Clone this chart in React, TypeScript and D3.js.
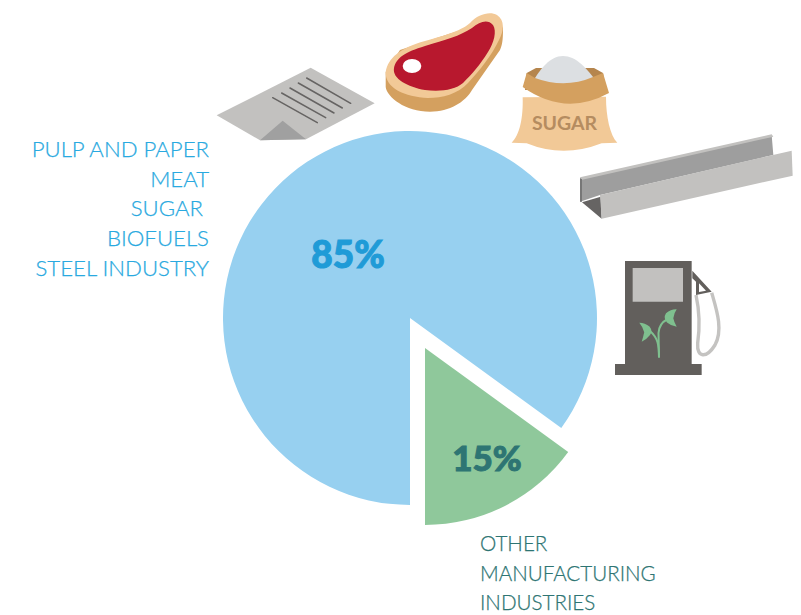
import React from "react";
import * as d3 from "d3";

const shares = [15, 85];
const sliceColors = ["#8fc89b", "#97d0f0"];
const leftLabels = ["PULP AND PAPER", "MEAT", "SUGAR ", "BIOFUELS", "STEEL INDUSTRY"];
const rightLabels = ["OTHER", "MANUFACTURING", "INDUSTRIES"];
const valueLabels = ["15%", "85%"];

const toPath = (pts: [number, number][]) => "M" + pts.map((p) => p.join(",")).join("L") + "Z";
const smooth = d3.line().curve(d3.curveCatmullRomClosed.alpha(0.5));
const z1 = (x: number, y: number): [number, number] => [200 + x / 3, y / 3];
const z2 = (x: number, y: number): [number, number] => [500 + x / 3, 60 + y / 3];
const z3 = (x: number, y: number): [number, number] => [600 + x / 3, 250 + y / 3];

const paperLines = [
  [320, 234, 452, 310],
  [295, 249, 427, 324],
  [270, 264, 402, 339],
  [245, 279, 377, 353],
  [218, 293, 352, 368],
];

export default function App() {
  const pie = d3.pie<number>().sort(null).startAngle((126 * Math.PI) / 180).endAngle((486 * Math.PI) / 180);
  const arcs = pie(shares);
  const green = d3.arc<any>().innerRadius(0).outerRadius(177)(arcs[0]) as string;
  const blue = d3.arc<any>().innerRadius(0).outerRadius(187)(arcs[1]) as string;

  const labelFont = "Lato, sans-serif";
  return (
    <svg width={801} height={615} style={{ position: "absolute", left: 0, top: 0, background: "#fff" }}>
      {/* pie */}
      <path d={blue} fill={sliceColors[1]} transform="translate(410,318)" />
      <path d={green} fill={sliceColors[0]} transform="translate(425,348)" />

      {/* paper */}
      <path d={toPath([z1(50, 346), z1(332, 203), z1(524, 310), z1(318, 418), z1(180, 421)])} fill="#c2c1bf" />
      <path d={toPath([z1(180, 421), z1(248, 362), z1(318, 418)])} fill="#a0a0a0" />
      {paperLines.map((l, i) => {
        const a = z1(l[0], l[1]);
        const b = z1(l[2], l[3]);
        return <line key={i} x1={a[0]} y1={a[1]} x2={b[0]} y2={b[1]} stroke="#666463" strokeWidth={1.5} strokeLinecap="round" />;
      })}

      {/* meat */}
      <path
        d="M385.7,72 L385.7,87 C387,97 405,111.7 430,111.7 C450,111.7 465,102 472,90 L500,50 C503,44 503,35 503,28 L498,18 L400,50 Z"
        fill="#d4a05f"
      />
      <path
        d="M385.7,72 C388,58 400,48 425,41 C450,34 462,30 470,23 C478,14 490,11 497,15 C505,20 504,31 499,40 C492,55 480,70 468,83 C458,94 442,98 428,98 C405,97 385,88 385.7,72 Z"
        fill="#f2c997"
      />
      <path
        d="M394,68 C396,58 405,52 425,46 C445,40 460,36 472,28 C480,21 488,19 493,25 C497,31 494,43 488,52 C480,65 472,74 463,83 C455,90 440,92 425,90 C408,87 392,79 394,68 Z"
        fill="#b8182e"
      />
      <ellipse cx={412} cy={66} rx={9.3} ry={7} fill="#fff" />

      {/* sugar */}
      <path d="M526.7,73 L536,68 L594,68 L603,73 L606,90 L525,90 Z" fill="#b5854d" />
      <path
        d={`M${z2(35, 248)}C${z2(60, 225)} ${z2(70, 170)} ${z2(68, 112)}L${z2(318, 110)}C${z2(318, 170)} ${z2(330, 225)} ${z2(352, 248)}L${z2(305, 250)}Q${z2(190, 295)} ${z2(80, 250)}Z`}
        fill="#f2c997"
      />
      <path d="M535,78 C540,70 550,56 563,56 C576,56 586,68 593,77 L594,86 L534,86 Z" fill="#dcdfe2" />
      <path d="M522.7,87 L526.7,73 L535,78 Q565,89 593,77 L603,73 L609,93 Q565,117 522.7,87 Z" fill="#d4a05f" />
      <text x={564.5} y={129.5} textAnchor="middle" fontFamily="Lato, sans-serif" fontWeight={700} fontSize={19.5} fill="#b58c60">SUGAR</text>

      {/* steel */}
      <path d={toPath([z2(240, 355), z2(815, 225), z2(820, 285), z2(300, 405), z2(240, 425)])} fill="#9e9e9e" />
      <path d={toPath([z2(240, 352), z2(815, 223), z2(820, 230), z2(243, 360)])} fill="#c2c1bf" />
      <path d={toPath([z2(240, 355), z2(246, 358), z2(246, 425), z2(240, 425)])} fill="#777" />
      <path d={toPath([z2(246, 427), z2(302, 410), z2(305, 476)])} fill="#666463" />
      <path d={toPath([z2(300, 405), z2(875, 272), z2(878, 347), z2(305, 476)])} fill="#c2c1bf" />

      {/* pump */}
      <path
        d={`M${z3(288, 135)}C${z3(300, 190)} ${z3(300, 230)} ${z3(293, 280)}C${z3(290, 325)} ${z3(320, 325)} ${z3(345, 285)}C${z3(370, 240)} ${z3(350, 180)} ${z3(335, 128)}`}
        fill="none"
        stroke="#c4c3c1"
        strokeWidth={3.4}
      />
      <path d={toPath([z3(277, 62), z3(335, 125), z3(288, 135), z3(288, 95), z3(277, 85)])} fill="#625f5c" />
      <path d={toPath([z3(297, 100), z3(318, 122), z3(297, 126)])} fill="#fff" />
      <path d={toPath([z3(75, 33), z3(275, 33), z3(275, 342), z3(305, 342), z3(305, 375), z3(45, 375), z3(45, 342), z3(75, 342)])} fill="#625f5c" />
      <path d={toPath([z3(98, 54), z3(249, 54), z3(249, 155), z3(98, 155)])} fill="#c2c1bf" />
      <path d="M659,357.5 C659,345 658,338 650,331" fill="none" stroke="#7fc08f" strokeWidth={2} />
      <path d="M659,357.5 L658.5,333 C659,326 662,322 667,319.5" fill="none" stroke="#7fc08f" strokeWidth={2} />
      <path d="M639.3,322.7 Q645,323 649.5,326.5 Q653,331 650,335 Q647,339 641.7,341.7 Q643,338 644.2,332.3 Q643,327 639.3,322.7 Z" fill="#7fc08f" />
      <path d="M676.7,309.3 Q671,309 666,313.3 Q663,318 667,322.5 Q671,326 676.7,326.7 Q674,322 673.3,318.3 Q674,313 676.7,309.3 Z" fill="#7fc08f" />

      {/* labels */}
      {leftLabels.map((t, i) => (
        <text key={t} x={209} y={[157, 187, 216, 246, 276][i]} textAnchor="end" fontFamily={labelFont} fontWeight={300} fontSize={22.2} fill="#29a9e0" stroke="#29a9e0" strokeWidth={0.25} style={{ whiteSpace: "pre" }}>{t}</text>
      ))}
      {rightLabels.map((t, i) => (
        <text key={t} x={480} y={[551, 581, 610][i]} fontFamily={labelFont} fontWeight={300} fontSize={20.6} fill="#2e7573" stroke="#2e7573" strokeWidth={0.25}>{t}</text>
      ))}
      <text x={487} y={471} textAnchor="middle" fontFamily="Lato, sans-serif" fontWeight={900} fontSize={35} fill="#2e7573" stroke="#2e7573" strokeWidth={1}>{valueLabels[0]}</text>
      <text x={348} y={268} textAnchor="middle" fontFamily="Lato, sans-serif" fontWeight={900} fontSize={37} fill="#1f9bd7" stroke="#1f9bd7" strokeWidth={1}>{valueLabels[1]}</text>
    </svg>
  );
}
